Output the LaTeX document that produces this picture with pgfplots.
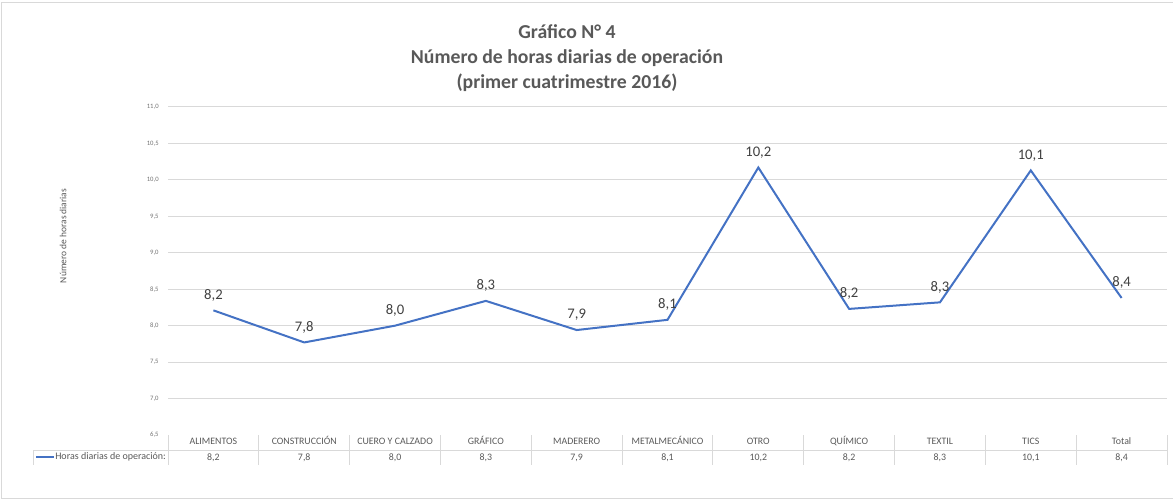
\documentclass[border=0pt]{standalone}
\usepackage{fontspec}
\setmainfont{Carlito}
\usepackage{pgfplots}
\pgfplotsset{compat=1.18}
\definecolor{gridc}{HTML}{D9D9D9}
\definecolor{txtc}{HTML}{595959}
\definecolor{lblc}{HTML}{404040}
\definecolor{serie}{HTML}{4472C4}
\newcommand{\sr}{\rule[-1.6pt]{0pt}{8.5pt}}
\pgfplotstableread{
x y
0 8.21
1 7.77
2 8.00
3 8.34
4 7.94
5 8.08
6 10.17
7 8.23
8 8.32
9 10.13
10 8.38
}\datos
\begin{document}
\begin{tikzpicture}
\useasboundingbox (0,0) rectangle (879.75pt,375pt);
\begin{axis}[
  at={(126pt,48.75pt)}, anchor=south west,
  scale only axis, width=749.25pt, height=246pt,
  xmin=-0.5, xmax=10.5, ymin=6.5, ymax=11,
  clip=false,
  axis line style={draw=none},
  major tick length=0pt,
  ytick={7,7.5,...,11},
  extra y ticks={6.5}, extra y tick style={grid=none},
  ymajorgrids, grid style={gridc, line width=0.75pt},
  /pgf/number format/use comma,
  /pgf/number format/fixed,
  /pgf/number format/fixed zerofill,
  /pgf/number format/precision=1,
  /pgf/number format/assume math mode=true,
  yticklabel style={font=\fontsize{5}{6}\selectfont, text=txtc!85, xshift=-3.5pt},
  xtick={0,...,10},
  xticklabels={{\sr ALIMENTOS\\\sr 8,2},{\sr CONSTRUCCIÓN\\\sr 7,8},{\sr CUERO Y CALZADO\\\sr 8,0},{\sr GRÁFICO\\\sr 8,3},{\sr MADERERO\\\sr 7,9},{\sr METALMECÁNICO\\\sr 8,1},{\sr OTRO\\\sr 10,2},{\sr QUÍMICO\\\sr 8,2},{\sr TEXTIL\\\sr 8,3},{\sr TICS\\\sr 10,1},{\sr Total\\\sr 8,4}},
  xticklabel style={font=\fontsize{7.4}{12}\selectfont, text=txtc, align=center, anchor=north, inner sep=0pt, yshift=0pt},
  ylabel={Número de horas diarias},
  ylabel style={at={(axis description cs:-0.105,0.607)}, anchor=center, font=\fontsize{7.1}{8}\selectfont, text=txtc},
  nodes near coords,
  every node near coord/.append style={font=\fontsize{11}{12}\selectfont, text=lblc, anchor=south, yshift=3pt},
]
\addplot[serie, line width=1.5pt, mark=none] table[x=x,y=y] {\datos};
\end{axis}
\begin{scope}[x=0.75pt, y=-0.75pt, shift={(0pt,375pt)}]
  \draw[gridc, line width=0.75pt] (1,498) -- (1,3) -- (1173,3);
  \draw[gridc, line width=0.75pt] (1,498) -- (1173,498);
  \foreach \i in {0,...,11} {
    \draw[gridc, line width=0.75pt] ({168+\i*90.818},435) -- ({168+\i*90.818},465);
  }
  \draw[gridc, line width=0.75pt] (33,450) -- (1167,450);
  \draw[gridc, line width=0.75pt] (33,450) -- (33,465);
  \draw[serie, line width=1.5pt] (36,457) -- (54,457);
  \node[anchor=west, inner sep=0pt, font=\fontsize{7.5}{9}\selectfont, text=txtc] at (55,457) {Horas diarias de operación:};
  \node[align=center, font=\fontsize{14.8}{18.75}\selectfont\bfseries, text=txtc] at (567,58) {Gráfico N° 4\\Número de horas diarias de operación\\(primer cuatrimestre 2016)};
\end{scope}
\end{tikzpicture}
\end{document}
